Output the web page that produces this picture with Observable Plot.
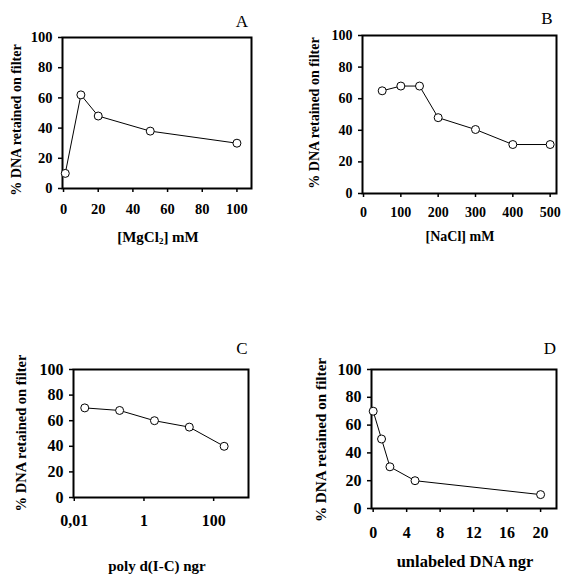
<!DOCTYPE html>
<html>
<head>
<meta charset="utf-8">
<script src="https://cdn.jsdelivr.net/npm/d3@7"></script>
<script src="https://cdn.jsdelivr.net/npm/@observablehq/plot@0.6"></script>
<style>
  html, body { margin: 0; padding: 0; background: #fff; }
  #fig { position: relative; width: 567px; height: 582px; overflow: hidden; background: #fff; }
  .pan { position: absolute; }
  .lbl { position: absolute; white-space: nowrap; font-family: "Liberation Serif", serif; color: #000; transform: translate(-50%, -50%); }
  .ylab { font-weight: bold; transform: translate(-50%, -50%) rotate(-90deg); }
  .xlab { font-weight: bold; }
  .letter { font-size: 17px; }
  sub { font-size: 0.6em; vertical-align: -2px; }
</style>
</head>
<body>
<div id="fig"></div>
<script>
// Panel A: MgCl2
const mgcl2 = [1, 10, 20, 50, 100];
const retainedA = [10, 62, 48, 38, 30];
// Panel B: NaCl
const nacl = [50, 100, 150, 200, 300, 400, 500];
const retainedB = [65, 68, 68, 48, 40.5, 31, 31];
// Panel C: poly d(I-C)
const polyIC = [0.02, 0.2, 2, 20, 200];
const retainedC = [70, 68, 60, 55, 40];
const ticksC = [0.01, 1, 100];
const tickLabelsC = ["0,01", "1", "100"];
// Panel D: unlabeled DNA
const unlabeled = [0, 1, 2, 5, 20];
const retainedD = [70, 50, 30, 20, 10];

const yTicks = [0, 20, 40, 60, 80, 100];

const fig = document.getElementById("fig");

function panel(xs, ys, o) {
  const data = xs.map((x, i) => ({x, y: ys[i]}));
  const p = Plot.plot({
    width: o.w, height: o.h,
    marginLeft: o.ml, marginRight: o.mr, marginTop: o.mt, marginBottom: o.mb,
    style: {fontFamily: "Liberation Serif, serif", fontSize: o.fs + "px", fontWeight: "bold", color: "#000", background: "#fff", overflow: "visible"},
    x: {type: o.xtype || "linear", domain: o.xdom},
    y: {domain: [0, 100]},
    marks: [
      Plot.axisY({ticks: yTicks, tickSize: 4, tickPadding: o.ypad, strokeWidth: 1.5, label: null}),
      Plot.axisX({ticks: o.xticks, tickFormat: o.xfmt, tickSize: 4, tickPadding: o.xpad, strokeWidth: 1.5, label: null}),
      Plot.frame({stroke: "#000", strokeWidth: 2}),
      Plot.line(data, {x: "x", y: "y", stroke: "#000", strokeWidth: 1}),
      Plot.dot(data, {x: "x", y: "y", r: 4, fill: "#fff", stroke: "#000", strokeWidth: 1})
    ]
  });
  p.classList.add("pan");
  p.style.left = o.left + "px";
  p.style.top = o.top + "px";
  fig.appendChild(p);
}

panel(mgcl2, retainedA, {left: 0, top: 0, w: 283, h: 290, ml: 62, mr: 32, mt: 37, mb: 102, fs: 14.5, ypad: 6,
  xdom: [-0.6, 108.4], xticks: [0, 20, 40, 60, 80, 100], xpad: 11});
panel(nacl, retainedB, {left: 283, top: 0, w: 284, h: 290, ml: 79, mr: 11, mt: 35, mb: 97, fs: 14, ypad: 6,
  xdom: [-2.7, 517], xticks: [0, 100, 200, 300, 400, 500], xpad: 10});
panel(polyIC, retainedC, {left: 0, top: 290, w: 283, h: 292, ml: 73, mr: 35, mt: 79, mb: 85, fs: 16, ypad: 6,
  xtype: "log", xdom: [0.0095, 1000], xticks: ticksC,
  xfmt: d => tickLabelsC[ticksC.findIndex(t => Math.abs(t - d) < 1e-9)], xpad: 13});
panel(unlabeled, retainedD, {left: 283, top: 290, w: 284, h: 292, ml: 88, mr: 11, mt: 79, mb: 74, fs: 16, ypad: 6,
  xdom: [-0.2, 21.9], xticks: [0, 4, 8, 12, 16, 20], xpad: 14});

function label(html, cls, x, y, fs) {
  const d = document.createElement("div");
  d.className = "lbl " + cls;
  d.innerHTML = html;
  d.style.left = x + "px";
  d.style.top = y + "px";
  if (fs) d.style.fontSize = fs + "px";
  fig.appendChild(d);
}
const yTitle = "% DNA retained on filter";
label(yTitle, "ylab", 17, 120, 14);
label(yTitle, "ylab", 315, 113, 14);
label(yTitle, "ylab", 21, 433, 14.5);
label(yTitle, "ylab", 321, 440, 15.2);
label("[MgCl<sub>2</sub>] mM", "xlab", 158, 237, 15);
label("[NaCl] mM", "xlab", 460, 237, 14);
label("poly d(I-C) ngr", "xlab", 157, 566, 15);
label("unlabeled DNA ngr", "xlab", 465, 562, 16.5);
label("A", "letter", 242, 22);
label("B", "letter", 547, 19);
label("C", "letter", 242, 349);
label("D", "letter", 550, 349);
</script>
</body>
</html>
